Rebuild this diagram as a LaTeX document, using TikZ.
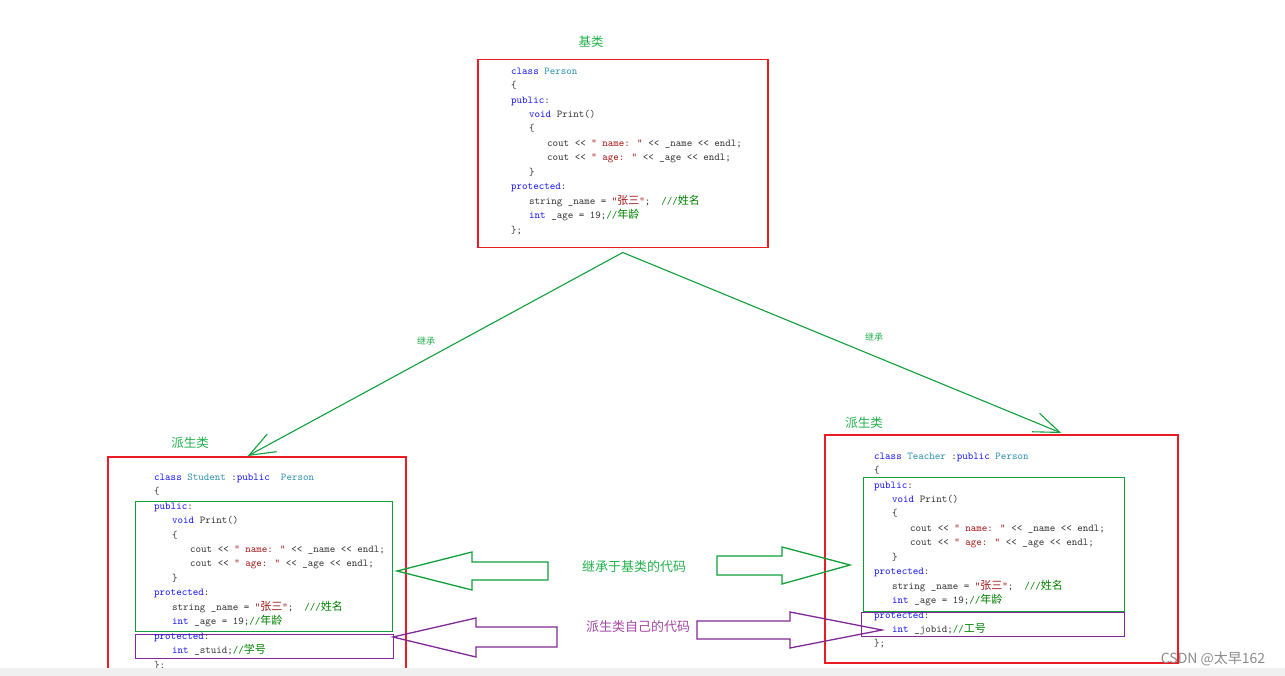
\documentclass[tikz,border=0pt]{standalone}
\usepackage{fontspec}
\newfontfamily\cjk{Noto Sans CJK SC}
\usetikzlibrary{arrows.meta}

\definecolor{kwblue}{RGB}{20,20,255}
\definecolor{tyteal}{RGB}{43,145,175}
\definecolor{strred}{RGB}{163,21,21}
\definecolor{cmtgreen}{RGB}{0,128,0}
\definecolor{boxred}{RGB}{237,28,36}
\definecolor{linegreen}{RGB}{16,160,60}
\definecolor{labelgreen}{RGB}{34,177,76}
\definecolor{boxpurple}{RGB}{128,40,150}
\definecolor{labelpurple}{RGB}{163,73,164}

\newcommand{\kwd}[1]{\textcolor{kwblue}{#1}}
\newcommand{\typ}[1]{\textcolor{tyteal}{#1}}
\newcommand{\strg}[1]{\textcolor{strred}{#1}}
\newcommand{\cmt}[1]{\textcolor{cmtgreen}{#1}}
\newcommand{\zh}[1]{{\cjk\fontsize{11}{14.45}\selectfont #1}}
\newcommand{\ind}{\hspace*{18pt}}

\begin{document}
\begin{tikzpicture}[x=1pt,y=-1pt,
  redbox/.style={draw=boxred,line width=1.5pt,anchor=north west,inner sep=0},
  greenbox/.style={draw=linegreen,line width=1.3pt,anchor=north west,inner sep=0},
  purplebox/.style={draw=boxpurple,line width=1.3pt,anchor=north west,inner sep=0},
  code/.style={anchor=north west,inner sep=0,align=left,text=black!80,
    font=\fontsize{10.5}{14.45}\selectfont\ttfamily},
  cntitle/.style={text=labelgreen,font=\cjk\fontsize{12.5}{14}\selectfont},
  smallnote/.style={text=labelgreen,font=\cjk\fontsize{9}{10}\selectfont},
  inherit/.style={draw=linegreen,line width=1.1pt,-{Straight Barb[length=26pt,width=20pt]}},
  bigarrow/.style={line width=1.3pt}]

\useasboundingbox (0,0) rectangle (1285,676);
\clip (0,0) rectangle (1285,676);
\fill[white] (0,0) rectangle (1285,676);

% base class
\node[cntitle] (baseTitle) at (591,42) {基类};
\node[redbox,minimum width=290,minimum height=188] (base) at (477,59) {};
\node[code] (baseCode) at (511,67.5) {\kwd{class} \typ{Person}\\
\{\\
\kwd{public}:\\
\ind\kwd{void} Print()\\
\ind\{\\
\ind\ind cout << \strg{" name: "} << \_name << endl;\\
\ind\ind cout << \strg{" age: "} << \_age << endl;\\
\ind\}\\
\kwd{protected}:\\
\ind string \_name = \strg{"\zh{张三}"};\ \ \cmt{///\zh{姓名}}\\
\ind\kwd{int} \_age = 19;\cmt{//\zh{年龄}}\\
\};};

% derived: Student
\node[cntitle] (stuTitle) at (190,443) {派生类};
\node[redbox,minimum width=298,minimum height=240] (student) at (107,456) {};
\node[greenbox,minimum width=257,minimum height=130] (stuInherit) at (135,501) {};
\node[purplebox,minimum width=258,minimum height=23.5] (stuOwn) at (135,634) {};
\node[code] (stuCode) at (154,473.5) {\kwd{class} \typ{Student} :\kwd{public}\ \ \typ{Person}\\
\{\\
\kwd{public}:\\
\ind\kwd{void} Print()\\
\ind\{\\
\ind\ind cout << \strg{" name: "} << \_name << endl;\\
\ind\ind cout << \strg{" age: "} << \_age << endl;\\
\ind\}\\
\kwd{protected}:\\
\ind string \_name = \strg{"\zh{张三}"};\ \ \cmt{///\zh{姓名}}\\
\ind\kwd{int} \_age = 19;\cmt{//\zh{年龄}}\\
\kwd{protected}:\\
\ind\kwd{int} \_stuid;\cmt{//\zh{学号}}\\
\};};

% derived: Teacher
\node[cntitle] (teaTitle) at (864,423) {派生类};
\node[redbox,minimum width=353,minimum height=228] (teacher) at (824,434) {};
\node[greenbox,minimum width=261,minimum height=134] (teaInherit) at (863,476.5) {};
\node[purplebox,minimum width=263,minimum height=24] (teaOwn) at (861,612) {};
\node[code] (teaCode) at (874,452.5) {\kwd{class} \typ{Teacher} :\kwd{public} \typ{Person}\\
\{\\
\kwd{public}:\\
\ind\kwd{void} Print()\\
\ind\{\\
\ind\ind cout << \strg{" name: "} << \_name << endl;\\
\ind\ind cout << \strg{" age: "} << \_age << endl;\\
\ind\}\\
\kwd{protected}:\\
\ind string \_name = \strg{"\zh{张三}"};\ \ \cmt{///\zh{姓名}}\\
\ind\kwd{int} \_age = 19;\cmt{//\zh{年龄}}\\
\kwd{protected}:\\
\ind\kwd{int} \_jobid;\cmt{//\zh{工号}}\\
\};};

% inheritance
\draw[inherit] ([yshift=-4pt]base.south) -- ([xshift=-9pt]student.north);
\draw[inherit] ([yshift=-4pt]base.south) -- ([xshift=60pt,yshift=1pt]teacher.north);
\node[smallnote] (inhLeft) at (426,341) {继承};
\node[smallnote] (inhRight) at (874,337) {继承};

% block arrows
\draw[bigarrow,draw=linegreen] (548,562) -- (472,562) -- (472,552) -- (397,571)
  -- (472,590) -- (472,580) -- (548,580) -- cycle;
\draw[bigarrow,draw=linegreen] (717,556) -- (782,556) -- (782,547) -- (850,565)
  -- (782,584) -- (782,575) -- (717,575) -- cycle;
\draw[bigarrow,draw=boxpurple] (557,627) -- (476,627) -- (476,618) -- (393,637)
  -- (476,657) -- (476,647) -- (557,647) -- cycle;
\draw[bigarrow,draw=boxpurple] (697,621) -- (790,621) -- (790,612) -- (882,630)
  -- (790,648) -- (790,639) -- (697,639) -- cycle;

\node[cntitle,font=\cjk\fontsize{13}{14}\selectfont] (inhNote) at (634,567) {继承于基类的代码};
\node[cntitle,text=labelpurple,font=\cjk\fontsize{13}{14}\selectfont] (ownNote) at (638,627) {派生类自己的代码};

\node[text=black!45,font=\cjk\fontsize{14}{16}\selectfont] (mark) at (1213,659) {CSDN @太早162};
\fill[black!6] (0,668) rectangle (1285,676);
\end{tikzpicture}
\end{document}
